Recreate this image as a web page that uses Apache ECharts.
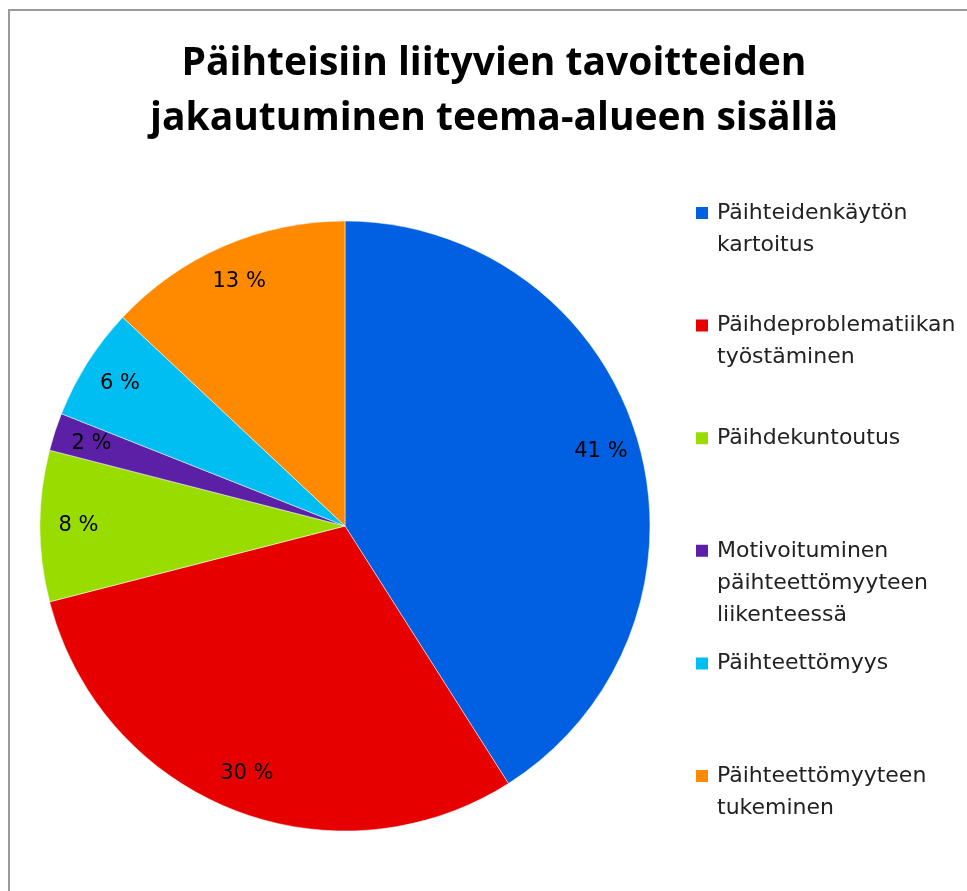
<!DOCTYPE html>
<html>
<head>
<meta charset="utf-8">
<script src="https://cdn.jsdelivr.net/npm/echarts@6/dist/echarts.min.js"></script>
<style>
  html, body { margin: 0; padding: 0; background: #fff; }
  #chart { width: 967px; height: 891px; }
</style>
</head>
<body>
<div id="chart"></div>
<script>
// data
const categories = [
  "Päihteidenkäytön\nkartoitus",
  "Päihdeproblematiikan\ntyöstäminen",
  "Päihdekuntoutus",
  "Motivoituminen\npäihteettömyyteen\nliikenteessä",
  "Päihteettömyys",
  "Päihteettömyyteen\ntukeminen",
];
const shares = [41, 30, 8, 2, 6, 13];
const colors = ["#0060E1", "#E60000", "#99DD00", "#5B20A6", "#00BEF2", "#FF8A00"];
const titleText = "Päihteisiin liityvien tavoitteiden\njakautuminen teema-alueen sisällä";

const chart = echarts.init(document.getElementById("chart"));

const lineH = 32;
const boxH = 160; // same box height for every legend item

// legend text is centred on the icon, so pad the top with blank lines
// to keep the first line level with the square
const lineCount = {};
categories.forEach((name) => { lineCount[name] = name.split("\n").length; });

const legendData = categories.map((name) => {
  const total = 2 * lineCount[name] - 1;
  const pad = (boxH - total * lineH) / 2;
  return {
    name: name,
    textStyle: { padding: [pad, 0, pad, 3] },
  };
});

const pieData = categories.map((name, i) => ({
  name: name,
  value: shares[i],
  itemStyle: { color: colors[i] },
}));

const labelData = categories.map((name, i) => ({
  name: name,
  value: shares[i],
}));

const option = {
  animation: false,
  backgroundColor: "#fff",
  graphic: [
    {
      type: "rect",
      silent: true,
      z: -10,
      shape: { x: 9, y: 10, width: 1200, height: 1200 },
      style: { fill: "transparent", stroke: "#9a9a9a", lineWidth: 2 },
    },
  ],
  title: {
    text: titleText,
    left: 494,
    top: 36,
    padding: 0,
    textAlign: "center",
    textStyle: {
      fontFamily: "Open Sans",
      fontWeight: "bold",
      fontSize: 39,
      lineHeight: 55,
      color: "#000",
    },
  },
  legend: {
    orient: "vertical",
    left: 694,
    top: 133,
    padding: 0,
    icon: "rect",
    itemWidth: 14,
    itemHeight: 14,
    itemGap: 112.6 - boxH,
    selectedMode: false,
    formatter: (name) => "\n".repeat(lineCount[name] - 1) + name,
    textStyle: {
      fontFamily: "DejaVu Sans",
      fontSize: 22,
      lineHeight: lineH,
      color: "#222",
    },
    data: legendData,
  },
  series: [
    {
      type: "pie",
      center: [345, 526],
      radius: [0, 305],
      startAngle: 90,
      clockwise: true,
      avoidLabelOverlap: false,
      label: { show: false },
      labelLine: { show: false },
      itemStyle: { borderColor: "#ffffff", borderWidth: 0.5 },
      emphasis: { disabled: true },
      data: pieData,
    },
    {
      type: "pie",
      center: [345, 526],
      radius: [222, 305],
      startAngle: 90,
      clockwise: true,
      silent: true,
      avoidLabelOverlap: false,
      itemStyle: { color: "rgba(0,0,0,0)", borderWidth: 0 },
      label: {
        show: true,
        position: "inside",
        formatter: (p) => p.value + " %",
        fontFamily: "DejaVu Sans",
        fontSize: 21,
        color: "#000",
        textBorderWidth: 0,
      },
      labelLine: { show: false },
      emphasis: { disabled: true },
      data: labelData,
    },
  ],
};

chart.setOption(option);
</script>
</body>
</html>
